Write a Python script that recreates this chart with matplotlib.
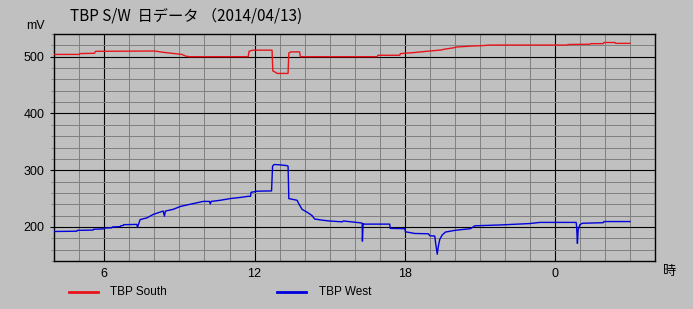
import matplotlib
matplotlib.use("Agg")
import matplotlib.pyplot as plt
from matplotlib.lines import Line2D
from matplotlib.ticker import MultipleLocator

# ---------------- data (hours since 0:00 of 2014/04/13, mV) ----------------
south_hours = [4.00, 5.00, 5.02, 5.60, 5.65, 8.00, 8.40, 8.80, 9.10, 9.25, 9.40,
               11.75, 11.78, 11.92, 12.70, 12.73, 12.86, 12.90, 13.34, 13.37, 13.45,
               13.80, 13.83, 16.90, 16.93, 17.80, 17.83, 18.30, 19.00, 19.50, 19.55,
               20.00, 20.05, 20.75, 21.10, 21.40, 24.50, 24.53, 25.40, 25.44, 25.93,
               25.96, 26.40, 26.43, 27.00]
south_mv = [504, 504, 505.5, 506, 509.5, 510, 507.5, 505.5, 504, 501, 500,
            500, 509.5, 511.5, 511.5, 475, 472, 470.5, 470.5, 506.5, 508.5,
            508.5, 500, 500, 502.5, 502.5, 505.5, 507, 510, 512, 513,
            516, 517, 519, 519.5, 520.5, 520.5, 521.5, 522, 523, 523,
            525, 525, 523.5, 523.5]

west_hours = [4.00, 4.90, 4.92, 5.55, 5.57, 5.95, 5.97, 6.30, 6.32, 6.63, 6.65, 6.75,
              6.77, 7.30, 7.32, 7.36, 7.43, 7.70, 7.95, 8.35, 8.40, 8.44, 8.75, 9.03,
              9.43, 9.95, 10.20, 10.23, 10.27, 10.63, 11.03, 11.43, 11.75, 11.84, 11.86,
              12.10, 12.68, 12.72, 12.78, 13.00, 13.30, 13.34, 13.37, 13.70, 13.78,
              13.90, 14.10, 14.30, 14.40, 14.70, 15.00, 15.50, 15.55, 16.28, 16.30,
              16.31, 16.34, 16.38, 17.40, 17.42, 18.00, 18.03, 18.40, 18.95, 19.00,
              19.20, 19.24, 19.30, 19.34, 19.40, 19.50, 19.63, 20.00, 20.63, 20.80,
              21.80, 23.00, 23.40, 24.85, 24.87, 24.90, 24.93, 25.00, 25.10, 25.93,
              25.96, 27.00]
west_mv = [192, 192.5, 194, 194.5, 196, 196.5, 198, 198.5, 200, 200.5, 202, 202.5,
           204, 204.5, 199, 204, 213, 216, 222, 228, 219, 228, 231, 236,
           240, 245, 245, 240.5, 245, 247, 250, 252, 254, 254, 261,
           263, 263.5, 307, 310, 309.5, 308, 307, 250, 247, 240,
           231, 226, 220, 214, 212, 210.5, 209, 210.5, 207, 205.5,
           175, 206, 205, 205, 197.5, 197, 191.5, 188.5, 188, 184.5,
           184, 170, 152, 165, 178, 186, 191, 194, 197, 202,
           203.5, 206, 208, 208, 200, 171, 195, 204, 206.5, 207.5,
           209.5, 209.5]

x_major = [6, 12, 18, 24]
x_labels = ["6", "12", "18", "0"]
y_major = [200, 300, 400, 500]
series_names = ["TBP South", "TBP West"]
title_text = "TBP S/W  日データ （2014/04/13)"

# ---------------- figure ----------------
BG = "#c0c0c0"
W, H = 693, 309
fig = plt.figure(figsize=(W / 100, H / 100), dpi=100, facecolor=BG)

L, R, T, B = 54.3, 655, 34, 261
ax = fig.add_axes([L / W, 1 - B / H, (R - L) / W, (B - T) / H], facecolor=BG)

num_font = ["Liberation Sans", "DejaVu Sans"]
cjk_font = ["Noto Sans CJK JP", "DejaVu Sans"]

ax.set_xlim(4, 28)
ax.set_ylim(140, 540)

ax.xaxis.set_major_locator(plt.FixedLocator(x_major))
ax.xaxis.set_minor_locator(MultipleLocator(1))
ax.yaxis.set_major_locator(plt.FixedLocator(y_major))
ax.yaxis.set_minor_locator(MultipleLocator(20))

ax.grid(which="minor", color="#808080", linewidth=0.7)
ax.grid(which="major", color="black", linewidth=0.8)
ax.set_axisbelow(True)

ax.set_xticklabels(x_labels, fontsize=9, family=num_font)
ax.set_yticks(y_major)
ax.set_yticklabels([str(v) for v in y_major], fontsize=9, family=num_font)

ax.tick_params(axis="x", which="both", length=0, pad=5)
ax.tick_params(axis="y", which="major", length=3, width=0.8, pad=4, direction="out")
ax.tick_params(axis="y", which="minor", length=2, width=0.6, color="#808080",
               direction="out")

for s in ax.spines.values():
    s.set_color("black")
    s.set_linewidth(1.0)

line_s, = ax.plot(south_hours, south_mv, color="#e8141c", linewidth=1.0,
                  label=series_names[0], zorder=3)
line_w, = ax.plot(west_hours, west_mv, color="#0000dc", linewidth=1.0,
                  label=series_names[1], zorder=3)

# texts
fig.text(70 / W, 1 - 16 / H, title_text, fontsize=11, family=cjk_font,
         ha="left", va="center")
fig.text(35 / W, 1 - 26 / H, "mV", fontsize=9, family=num_font,
         ha="center", va="center")
fig.text(670 / W, 1 - 272 / H, "時", fontsize=9.5, family=cjk_font,
         ha="center", va="center")

# legend (manual)
for (x0, x1, tx), ln in zip([(69, 98, 110), (277, 306, 319)], [line_s, line_w]):
    yl = 1 - 292 / H
    fig.add_artist(Line2D([x0 / W, x1 / W], [yl, yl], color=ln.get_color(),
                          linewidth=2.0, transform=fig.transFigure))
    fig.text(tx / W, yl, ln.get_label(), fontsize=8.5, family=num_font,
             ha="left", va="center")

fig.savefig("out.png", dpi=100, facecolor=BG)
